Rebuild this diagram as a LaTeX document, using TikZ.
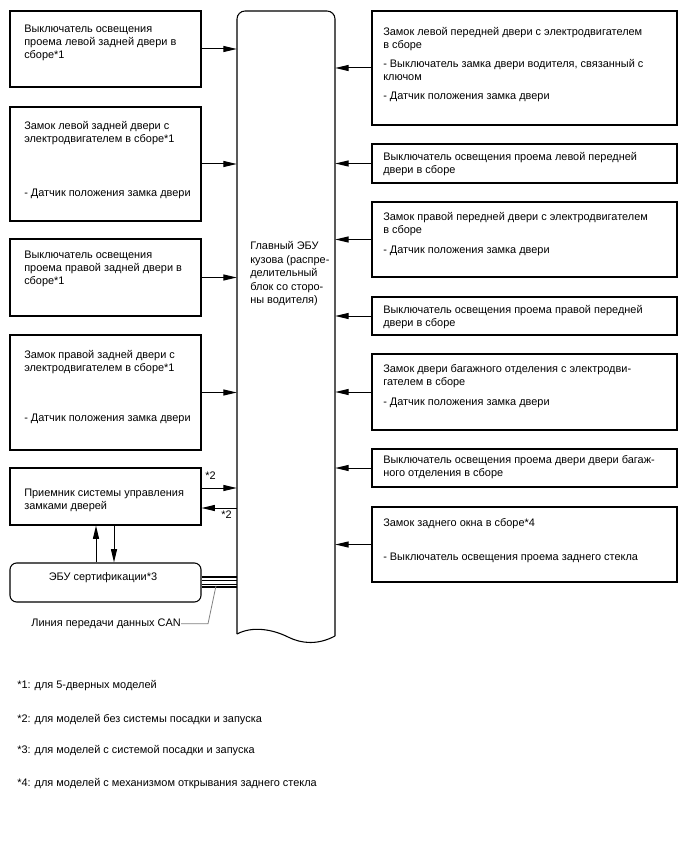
\documentclass[tikz,border=0pt]{standalone}
\usepackage{fontspec}
\setmainfont{Liberation Sans}
\usetikzlibrary{arrows.meta, positioning, calc, fit}

\begin{document}
\begin{tikzpicture}[x=0.75pt, y=-0.75pt,
    box/.style={draw, line width=0.8pt, inner sep=0pt},
    txt/.style={anchor=north west, align=left, inner sep=0pt, font=\fontsize{8.2}{9.75}\selectfont},
    arr/.style={-{Triangle[length=10pt, width=4.5pt]}, line width=0.75pt}
]
\useasboundingbox (0,0) rectangle (688,852);

% main body ECU
\node[fit={(237,11) (335,640)}, inner sep=0pt] (ECU) {};
\draw[line width=0.8pt, rounded corners=6pt] (237,634) -- (237,11) -- (335,11) -- (335,636);
\draw[line width=0.8pt] (335,636) .. controls (318,645) and (302,644) .. (288,637) .. controls (272,629) and (252,626) .. (237,634);
\node[txt, font=\fontsize{8.2}{10.1}\selectfont] (ECUt) at (250,241.5) {Главный ЭБУ\\кузова (распре-\\делительный\\блок со сторо-\\ны водителя)};

% left side
\node[box, fit={(10,11) (201,87)}] (L1) {};
\node[txt] (L1t) at (24,24.5) {Выключатель освещения\\проема левой задней двери в\\сборе*1};
\node[box, fit={(10,107) (201,221)}] (L2) {};
\node[txt] (L2t) at (24,121.5) {Замок левой задней двери с\\электродвигателем в сборе*1};
\node[txt] (L2d) at (24,188.5) {- Датчик положения замка двери};
\node[box, fit={(10,239) (201,316)}] (L3) {};
\node[txt] (L3t) at (24,250.5) {Выключатель освещения\\проема правой задней двери в\\сборе*1};
\node[box, fit={(10,335) (201,450)}] (L4) {};
\node[txt] (L4t) at (24,350.5) {Замок правой задней двери с\\электродвигателем в сборе*1};
\node[txt] (L4d) at (24,413.5) {- Датчик положения замка двери};
\node[box, fit={(10,468) (201,525)}] (RX) {};
\node[txt] (RXt) at (24,488.5) {Приемник системы управления\\замками дверей};
\node[box, rounded corners=5pt, fit={(10,563) (201,602)}] (CERT) {};
\node[txt, anchor=base] (CERTt) at (103,580.5) {ЭБУ сертификации*3};

% right side
\node[box, fit={(372,11) (677,125)}] (R1) {};
\node[txt] (R1t) at (383,27.5) {Замок левой передней двери с электродвигателем\\в сборе\\[4pt]- Выключатель замка двери водителя, связанный с\\ключом\\[5pt]- Датчик положения замка двери};
\node[box, fit={(372,144) (677,183)}] (R2) {};
\node[txt] (R2t) at (383,152.5) {Выключатель освещения проема левой передней\\двери в сборе};
\node[box, fit={(372,202) (677,277)}] (R3) {};
\node[txt] (R3t) at (383,212.5) {Замок правой передней двери с электродвигателем\\в сборе\\[5pt]- Датчик положения замка двери};
\node[box, fit={(372,297) (677,335)}] (R4) {};
\node[txt] (R4t) at (383,305.5) {Выключатель освещения проема правой передней\\двери в сборе};
\node[box, fit={(372,354) (677,430)}] (R5) {};
\node[txt] (R5t) at (383,364.5) {Замок двери багажного отделения с электродви-\\гателем в сборе\\[5pt]- Датчик положения замка двери};
\node[box, fit={(372,449) (677,487)}] (R6) {};
\node[txt] (R6t) at (383,455.5) {Выключатель освещения проема двери двери багаж-\\ного отделения в сборе};
\node[box, fit={(372,507) (677,582)}] (R7) {};
\node[txt] (R7t) at (383,518.5) {Замок заднего окна в сборе*4};
\node[txt] (R7d) at (383,552.5) {- Выключатель освещения проема заднего стекла};

% connections
\foreach \b in {L1,L2,L3,L4}
    \draw[arr] (\b.east) -- (\b.east -| ECU.west);
\foreach \b in {R1,R2,R3,R4,R5,R6,R7}
    \draw[arr] (\b.west) -- (\b.west -| ECU.east);
\draw[arr] ($(RX.east)+(0,-8.5)$) -- ($(RX.east -| ECU.west)+(0,-8.5)$);
\draw[arr] ($(RX.east -| ECU.west)+(0,11.5)$) -- ($(RX.east)+(0,11.5)$);
\node[txt, anchor=base west] (S2a) at (205,479) {*2};
\node[txt, anchor=base west] (S2b) at (221,518) {*2};
\draw[arr] ($(CERT.north)+(-9.5,0)$) -- ($(RX.south)+(-9.5,0)$);
\draw[arr] ($(RX.south)+(8.5,0)$) -- ($(CERT.north)+(8.5,0)$);

% CAN bus
\foreach \dy/\lw in {-5.8/1.6pt, -2.5/0.5pt, 1.5/0.5pt, 4.8/1.6pt}
    \draw[line width=\lw] ($(CERT.east)+(0,\dy)$) -- ($(CERT.east -| ECU.west)+(0,\dy)$);
\node[txt, anchor=base east] (CANt) at (181,626.5) {Линия передачи данных CAN};
\draw[gray, line width=0.6pt] (CANt.east) -- ++(27,0) -- ++(8,-38);

% notes
\node[txt, anchor=base west] (N1) at (17,688.5) {*1: для 5-дверных моделей};
\node[txt, anchor=base west] (N2) at (17,722.5) {*2: для моделей без системы посадки и запуска};
\node[txt, anchor=base west] (N3) at (17,753.5) {*3: для моделей с системой посадки и запуска};
\node[txt, anchor=base west] (N4) at (17,786.5) {*4: для моделей с механизмом открывания заднего стекла};
\end{tikzpicture}
\end{document}
